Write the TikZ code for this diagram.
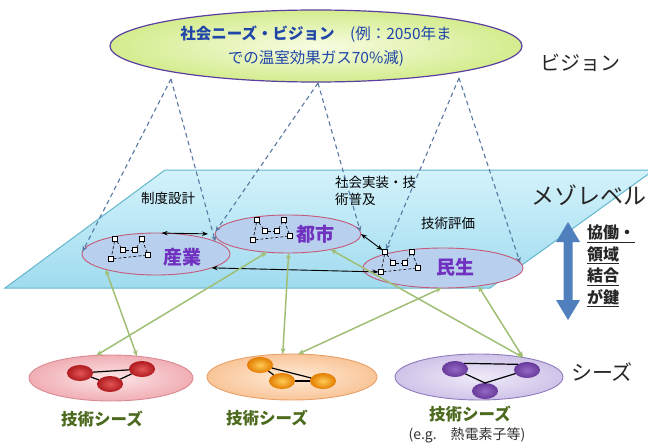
\documentclass[tikz,border=0pt]{standalone}
\usepackage{fontspec}
\setmainfont{Noto Sans CJK JP}
\usetikzlibrary{arrows.meta,shapes.geometric}
\definecolor{planeTop}{HTML}{D3F2FB}
\definecolor{planeBot}{HTML}{A0DBEF}
\definecolor{planeEdge}{HTML}{62B7CC}
\definecolor{domFill}{HTML}{B9CFEE}
\definecolor{domEdge}{HTML}{C45A78}
\definecolor{domText}{HTML}{7030C0}
\definecolor{visIn}{HTML}{F7FCE2}
\definecolor{visOut}{HTML}{D4EC8E}
\definecolor{visEdge}{HTML}{5B3FA0}
\definecolor{visText}{HTML}{2046A8}
\definecolor{dashCol}{HTML}{5878A2}
\definecolor{greenLink}{HTML}{A0BE74}
\definecolor{seedText}{HTML}{4C6A1E}
\definecolor{bigArrow}{HTML}{4F80BD}
\definecolor{redIn}{HTML}{FCE6E8}
\definecolor{redOut}{HTML}{F0AEB4}
\definecolor{redEdge}{HTML}{D98A92}
\definecolor{oraIn}{HTML}{FFEBD8}
\definecolor{oraOut}{HTML}{F9C598}
\definecolor{oraEdge}{HTML}{E9A066}
\definecolor{purIn}{HTML}{F0EAF9}
\definecolor{purOut}{HTML}{CFC3E8}
\definecolor{purEdge}{HTML}{8E7BBE}
\definecolor{rdotIn}{HTML}{E25656}
\definecolor{rdotOut}{HTML}{B01A1E}
\definecolor{odotIn}{HTML}{FFCC55}
\definecolor{odotOut}{HTML}{E37C00}
\definecolor{pdotIn}{HTML}{9468C4}
\definecolor{pdotOut}{HTML}{683A9A}
\begin{document}
\begin{tikzpicture}[x=1pt,y=-1pt,
  every node/.style={inner sep=0pt, outer sep=0pt},
  plane/.style={draw=planeEdge, line width=1pt, top color=planeTop, bottom color=planeBot},
  visionell/.style={ellipse, draw=visEdge, line width=1.2pt, inner color=visIn, outer color=visOut,
    minimum width=412pt, minimum height=72pt, align=center, text=visText,
    font=\fontsize{15.5}{24}\selectfont},
  domainell/.style={ellipse, draw=domEdge, fill=domFill, line width=0.9pt},
  domlbl/.style={text=domText, font=\fontsize{19}{22}\selectfont\bfseries},
  sq/.style={rectangle, draw=black, fill=white, minimum size=5pt, line width=0.6pt},
  net/.style={densely dashed, line width=0.6pt},
  visline/.style={draw=dashCol, line width=1.1pt, dash pattern=on 4.5pt off 3.5pt, -{Stealth[length=5.5pt,width=5pt]}},
  link/.style={draw=black, line width=0.9pt, {Stealth[length=6pt,width=4.5pt]}-{Stealth[length=6pt,width=4.5pt]}},
  seedlink/.style={draw=greenLink, line width=1.5pt, {Stealth[length=6pt,width=5pt]}-{Stealth[length=6pt,width=5pt]}},
  seedell/.style={ellipse, line width=0.9pt, minimum height=46pt},
  seeddot/.style={ellipse, minimum width=26pt, minimum height=16pt},
  seedline/.style={draw=black, line width=1.2pt},
  seedlbl/.style={text=seedText, font=\fontsize{16.5}{20}\selectfont\bfseries},
  side/.style={text=black!85},
  small/.style={text=black, font=\fontsize{13.5}{16}\selectfont}
]
\useasboundingbox (0,0) rectangle (648,447);

% meso-level plane
\path[plane] (165,170) -- (654,170) -- (490,288) -- (5,288) -- cycle;

% vision
\node[visionell] (vision) at (316,46) {{\bfseries 社会ニーズ・ビジョン}\quad(例：2050年ま\\での温室効果ガス70\%減)};
\node[side, font=\fontsize{20}{24}\selectfont] (visLbl) at (580,63) {ビジョン};
\coordinate (apexL) at (171,79);
\coordinate (apexM) at (318,83);
\coordinate (apexR) at (459,78);

% domain ellipses on the plane
\node[domainell, minimum width=148pt, minimum height=42pt] (sangyo) at (156,254) {};
\node[domainell, minimum width=146pt, minimum height=38pt] (toshi) at (288,234) {};
\node[domainell, minimum width=160pt, minimum height=40pt] (minsei) at (443,268) {};
\node[domlbl] (sangyoLbl) at (182,257) {産業};
\node[domlbl] (toshiLbl) at (315,234) {都市};
\node[domlbl] (minseiLbl) at (455,267) {民生};

% small networks
\foreach \p/\ox/\oy in {a/115/239, b/257/220, c/385/252} {
  \node[sq] (\p1) at (\ox,\oy) {};
  \node[sq] (\p2) at (\ox+27,\oy) {};
  \node[sq] (\p3) at (\ox+8,\oy+11) {};
  \node[sq] (\p4) at (\ox+20,\oy+11) {};
  \node[sq] (\p5) at (\ox+33,\oy+16) {};
  \node[sq] (\p6) at (\ox-4,\oy+20) {};
  \draw[net] (\p1) -- (\p6);
  \draw[net] (\p6) -- (\p5);
  \draw[net] (\p5) -- (\p2);
  \draw[net] (\p1) -- (\p3);
  \draw[net] (\p3) -- (\p4);
  \draw[net] (\p4) -- (\p2);
}

% plane labels
\node[side, font=\fontsize{23}{26}\selectfont] (mesoLbl) at (589,195) {メゾレベル};
\node[small] (seidoLbl) at (168,198) {制度設計};
\node[small, anchor=west, align=left, font=\fontsize{13.5}{16.5}\selectfont] (jissoLbl) at (335,191) {社会実装・技\\術普及};
\node[small] (hyokaLbl) at (448,223) {技術評価};

% dashed lines from vision
\draw[visline] (apexL) -- (sangyo.178);
\draw[visline] (apexL) -- (sangyo.12);
\draw[visline] (apexM) -- (toshi.178);
\draw[visline] (apexM) -- (toshi.2);
\draw[visline] (apexR) -- (c1);
\draw[visline] (apexR) -- (minsei.4);

% links on plane
\draw[link, shorten >=7pt] (sangyo.75) -- (toshi.180);
\draw[link] (c1) -- (toshi.east);
\draw[link] (c6) -- (sangyo.346);

% key arrow and text
\fill[bigArrow] (568,222) -- (580,242) -- (572.5,242) -- (572.5,300) -- (580,300) -- (568,320)
  -- (556,300) -- (563.5,300) -- (563.5,242) -- (556,242) -- cycle;
\node[anchor=west, align=left, text=black!85, font=\fontsize{16}{21.5}\selectfont\bfseries] (keyLbl) at (587,266)
  {\underline{協働・}\\\underline{領域}\\\underline{結合}\\\underline{が鍵}};

% seeds
\node[seedell, minimum width=164pt, draw=redEdge, inner color=redIn, outer color=redOut] (redSeed) at (111,378) {};
\node[seedell, minimum width=170pt, draw=oraEdge, inner color=oraIn, outer color=oraOut] (oraSeed) at (292,377) {};
\node[seedell, minimum width=168pt, draw=purEdge, inner color=purIn, outer color=purOut] (purSeed) at (479,377) {};
\node[side, font=\fontsize{21}{24}\selectfont] (seedsLbl) at (602,372) {シーズ};

\node[seeddot, inner color=rdotIn, outer color=rdotOut] (r1) at (80,373) {};
\node[seeddot, inner color=rdotIn, outer color=rdotOut] (r2) at (110,384) {};
\node[seeddot, inner color=rdotIn, outer color=rdotOut] (r3) at (142,369) {};
\draw[seedline] (r1) -- (r3);
\draw[seedline] (r1) -- (r2);
\draw[seedline] (r2) -- (r3);

\node[seeddot, inner color=odotIn, outer color=odotOut] (o1) at (260,365) {};
\node[seeddot, inner color=odotIn, outer color=odotOut] (o2) at (282,381) {};
\node[seeddot, inner color=odotIn, outer color=odotOut] (o3) at (323,381) {};
\draw[seedline] (o1) -- (o3);
\draw[seedline] (o1) -- (o2);
\draw[seedline] (o2) -- (o3);

\node[seeddot, inner color=pdotIn, outer color=pdotOut] (p1) at (455,369) {};
\node[seeddot, inner color=pdotIn, outer color=pdotOut] (p2) at (527,370) {};
\node[seeddot, inner color=pdotIn, outer color=pdotOut] (p3) at (485,391) {};
\draw[seedline] (p1.north east) -- (p2.north west);
\draw[seedline] (p1) -- (p3.north);
\draw[seedline] (p2) -- (p3.north);

\node[seedlbl] (redLbl) at (102,419) {技術シーズ};
\node[seedlbl] (oraLbl) at (267,418) {技術シーズ};
\node[seedlbl] (purLbl) at (470,414) {技術シーズ};
\node[text=black!80, font=\fontsize{14}{16}\selectfont] (egLbl) at (467,435) {(e.g.\quad 熱電素子等)};

% links between plane and seeds
\draw[seedlink] (sangyo.197) -- (redSeed.40);
\draw[seedlink] (toshi.221) -- (redSeed.123);
\draw[seedlink] (toshi.272) -- (oraSeed.112);
\draw[seedlink] (toshi.340) -- (purSeed.24);
\draw[seedlink] (minsei.266) -- (oraSeed.75);
\draw[seedlink] (minsei.333) -- (purSeed.24);
\end{tikzpicture}
\end{document}
